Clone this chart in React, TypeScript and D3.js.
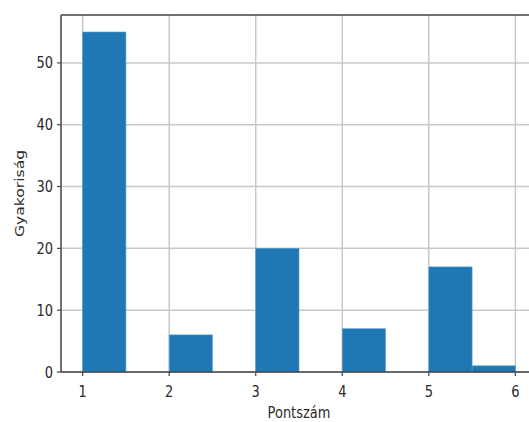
import React from "react";
import * as d3 from "d3";

// Histogram of scores: bin edges and counts
const binEdges = [1, 1.5, 2, 2.5, 3, 3.5, 4, 4.5, 5, 5.5, 6];
const counts = [55, 0, 6, 0, 20, 0, 7, 0, 17, 1];
const xTicks = [1, 2, 3, 4, 5, 6];
const yTicks = [0, 10, 20, 30, 40, 50];
const xLabel = "Pontszám";
const yLabel = "Gyakoriság";

const W = 529;
const H = 422;
const left = 61;
const right = 537;
const top = 15;
const bottom = 372;

const FONT = "DejaVu Sans, sans-serif";
const TEXT_COLOR = "#2a2a2a";
const SY = 1.2;

export default function App() {
  const x = d3.scaleLinear().domain([0.75, 6.25]).range([left, right]);
  const y = d3.scaleLinear().domain([0, 57.75]).range([bottom, top]);

  const bins = counts.map((c, i) => ({ x0: binEdges[i], x1: binEdges[i + 1], c }));

  return (
    <svg
      width={W}
      height={H}
      style={{ position: "absolute", left: 0, top: 0, background: "#fff" }}
      fontFamily={FONT}
    >
      {/* grid */}
      <g stroke="#c8c8c8" strokeWidth={1.5}>
        {xTicks.map((t) => (
          <line key={"gx" + t} x1={x(t)} x2={x(t)} y1={top} y2={bottom} />
        ))}
        {yTicks.map((t) => (
          <line key={"gy" + t} x1={left} x2={right} y1={y(t)} y2={y(t)} />
        ))}
      </g>

      {/* bars */}
      <g fill="#1f77b4" stroke="#5a9fd0" strokeWidth={0.6}>
        {bins
          .filter((b) => b.c > 0)
          .map((b, i) => (
            <rect
              key={i}
              x={x(b.x0)}
              width={x(b.x1) - x(b.x0)}
              y={y(b.c)}
              height={y(0) - y(b.c)}
            />
          ))}
      </g>

      {/* spines */}
      <g stroke="#444" strokeWidth={1.5} fill="none">
        <line x1={left} x2={left} y1={top} y2={bottom} />
        <line x1={left} x2={right} y1={bottom} y2={bottom} />
        <line x1={left} x2={right} y1={top} y2={top} />
        <line x1={right} x2={right} y1={top} y2={bottom} />
      </g>

      {/* x ticks */}
      <g>
        {xTicks.map((t) => (
          <g key={"xt" + t}>
            <line x1={x(t)} x2={x(t)} y1={bottom} y2={bottom + 4} stroke="#444" strokeWidth={1.2} />
            <text
              transform={`translate(${x(t)},${bottom + 25}) scale(1,${SY})`}
              textAnchor="middle"
              fontSize={13}
              fill={TEXT_COLOR}
            >
              {t}
            </text>
          </g>
        ))}
      </g>

      {/* y ticks */}
      <g>
        {yTicks.map((t) => (
          <g key={"yt" + t}>
            <line x1={left - 4} x2={left} y1={y(t)} y2={y(t)} stroke="#444" strokeWidth={1.2} />
            <text
              transform={`translate(${left - 8},${y(t) + 5.5}) scale(1,${SY})`}
              textAnchor="end"
              fontSize={13}
              fill={TEXT_COLOR}
            >
              {t}
            </text>
          </g>
        ))}
      </g>

      {/* axis labels */}
      <text
        transform={`translate(${(left + right) / 2},${bottom + 46}) scale(1,${SY})`}
        textAnchor="middle"
        fontSize={13}
        fill={TEXT_COLOR}
      >
        {xLabel}
      </text>
      <text
        transform={`translate(24,${(top + bottom) / 2}) rotate(-90) scale(${SY},1)`}
        textAnchor="middle"
        fontSize={13}
        fill={TEXT_COLOR}
      >
        {yLabel}
      </text>
    </svg>
  );
}
